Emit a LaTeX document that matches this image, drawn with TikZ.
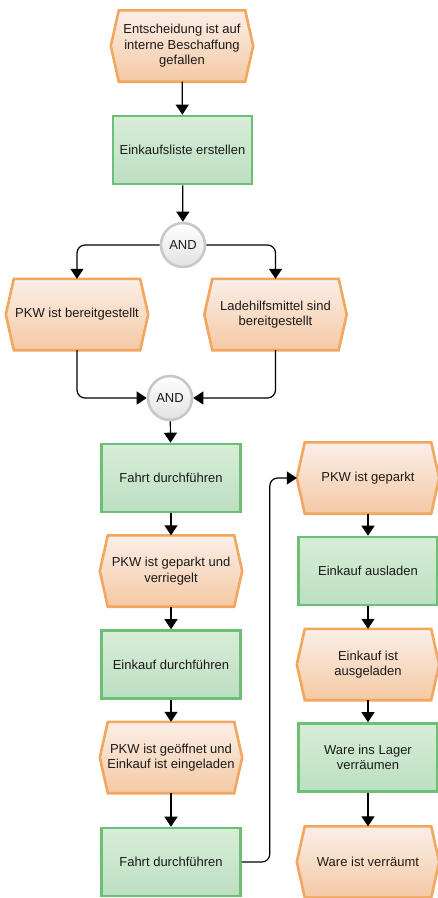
\documentclass[tikz,border=0pt]{standalone}
\usepackage{fontspec}
\setmainfont{Liberation Sans}
\usetikzlibrary{arrows.meta,backgrounds}

\definecolor{evborder}{HTML}{F2A65E}
\definecolor{evtop}{HTML}{FBEFE8}
\definecolor{evbottom}{HTML}{F4C9A4}
\definecolor{fnborder}{HTML}{6CBF74}
\definecolor{fntop}{HTML}{D8EDD8}
\definecolor{fnbottom}{HTML}{BCDFC2}
\definecolor{opborder}{HTML}{C8C8C8}
\definecolor{opbottom}{HTML}{E2E2E2}
\definecolor{txt}{HTML}{1A1A1A}

\tikzset{
  every node/.style={font=\fontsize{13}{15.5}\selectfont, text=txt, align=center},
  evnode/.style={minimum width=142pt, minimum height=71pt, inner sep=0pt},
  evhex/.style={draw=evborder, line width=2.6pt, line join=miter, top color=evtop, bottom color=evbottom},
  fnbox/.style={draw=fnborder, line width=2.6pt, minimum width=139pt, minimum height=68pt,
                inner sep=0pt, top color=fntop, bottom color=fnbottom},
  opnode/.style={circle, draw=opborder, line width=2.6pt, minimum size=44pt, inner sep=0pt,
                 top color=white, bottom color=opbottom},
  arr/.style={draw=black, line width=1.2pt, -{Triangle[width=13pt,length=10pt]}},
  elbow/.style={arr, rounded corners=8pt},
}

% event: hexagon drawn behind a named node
\newcommand\evt[4]{%
  \node[evnode] (#1) at (#2,#3) {#4};
  \begin{pgfonlayer}{background}
    \path[evhex] (#1.west) -- ([xshift=8pt]#1.north west) -- ([xshift=-8pt]#1.north east)
      -- (#1.east) -- ([xshift=-8pt]#1.south east) -- ([xshift=8pt]#1.south west) -- cycle;
  \end{pgfonlayer}}

\begin{document}
\begin{tikzpicture}[x=1pt,y=-1pt]
\useasboundingbox (0,0) rectangle (437,898);

% upper part
\evt{e1}{182}{46}{Entscheidung ist auf\\interne Beschaffung\\gefallen}
\node[fnbox] (f1) at (182.5,150) {Einkaufsliste erstellen};
\node[opnode] (and1) at (183,245) {AND};
\evt{e2}{77}{314.5}{PKW ist bereitgestellt}
\evt{e3}{275.5}{314.5}{Ladehilfsmittel sind\\bereitgestellt}
\node[opnode] (and2) at (170,398) {AND};

% left column
\node[fnbox] (f2) at (171,478) {Fahrt durchführen};
\evt{e4}{171}{571}{PKW ist geparkt und\\verriegelt}
\node[fnbox] (f3) at (171,664.5) {Einkauf durchführen};
\evt{e5}{171}{757.5}{PKW ist geöffnet und\\Einkauf ist eingeladen}
\node[fnbox] (f4) at (171,862) {Fahrt durchführen};

% right column
\evt{e6}{368}{478}{PKW ist geparkt}
\node[fnbox] (f5) at (368,571) {Einkauf ausladen};
\evt{e7}{368}{664.5}{Einkauf ist\\ausgeladen}
\node[fnbox] (f6) at (368,757.5) {Ware ins Lager\\verräumen};
\evt{e8}{368}{862}{Ware ist verräumt}

% connectors
\draw[arr] (e1) -- (f1);
\draw[arr] (f1) -- (and1);
\draw[elbow] (and1.west) -| (e2.north);
\draw[elbow] (and1.east) -| (e3.north);
\draw[elbow] (e2.south) |- (and2.west);
\draw[elbow] (e3.south) |- (and2.east);
\draw[arr] (and2) -- (f2);
\draw[arr] (f2) -- (e4);
\draw[arr] (e4) -- (f3);
\draw[arr] (f3) -- (e5);
\draw[arr] (e5) -- (f4);
\draw[elbow] (f4.east) -- ++(28,0) |- (e6.west);
\draw[arr] (e6) -- (f5);
\draw[arr] (f5) -- (e7);
\draw[arr] (e7) -- (f6);
\draw[arr] (f6) -- (e8);
\end{tikzpicture}
\end{document}
